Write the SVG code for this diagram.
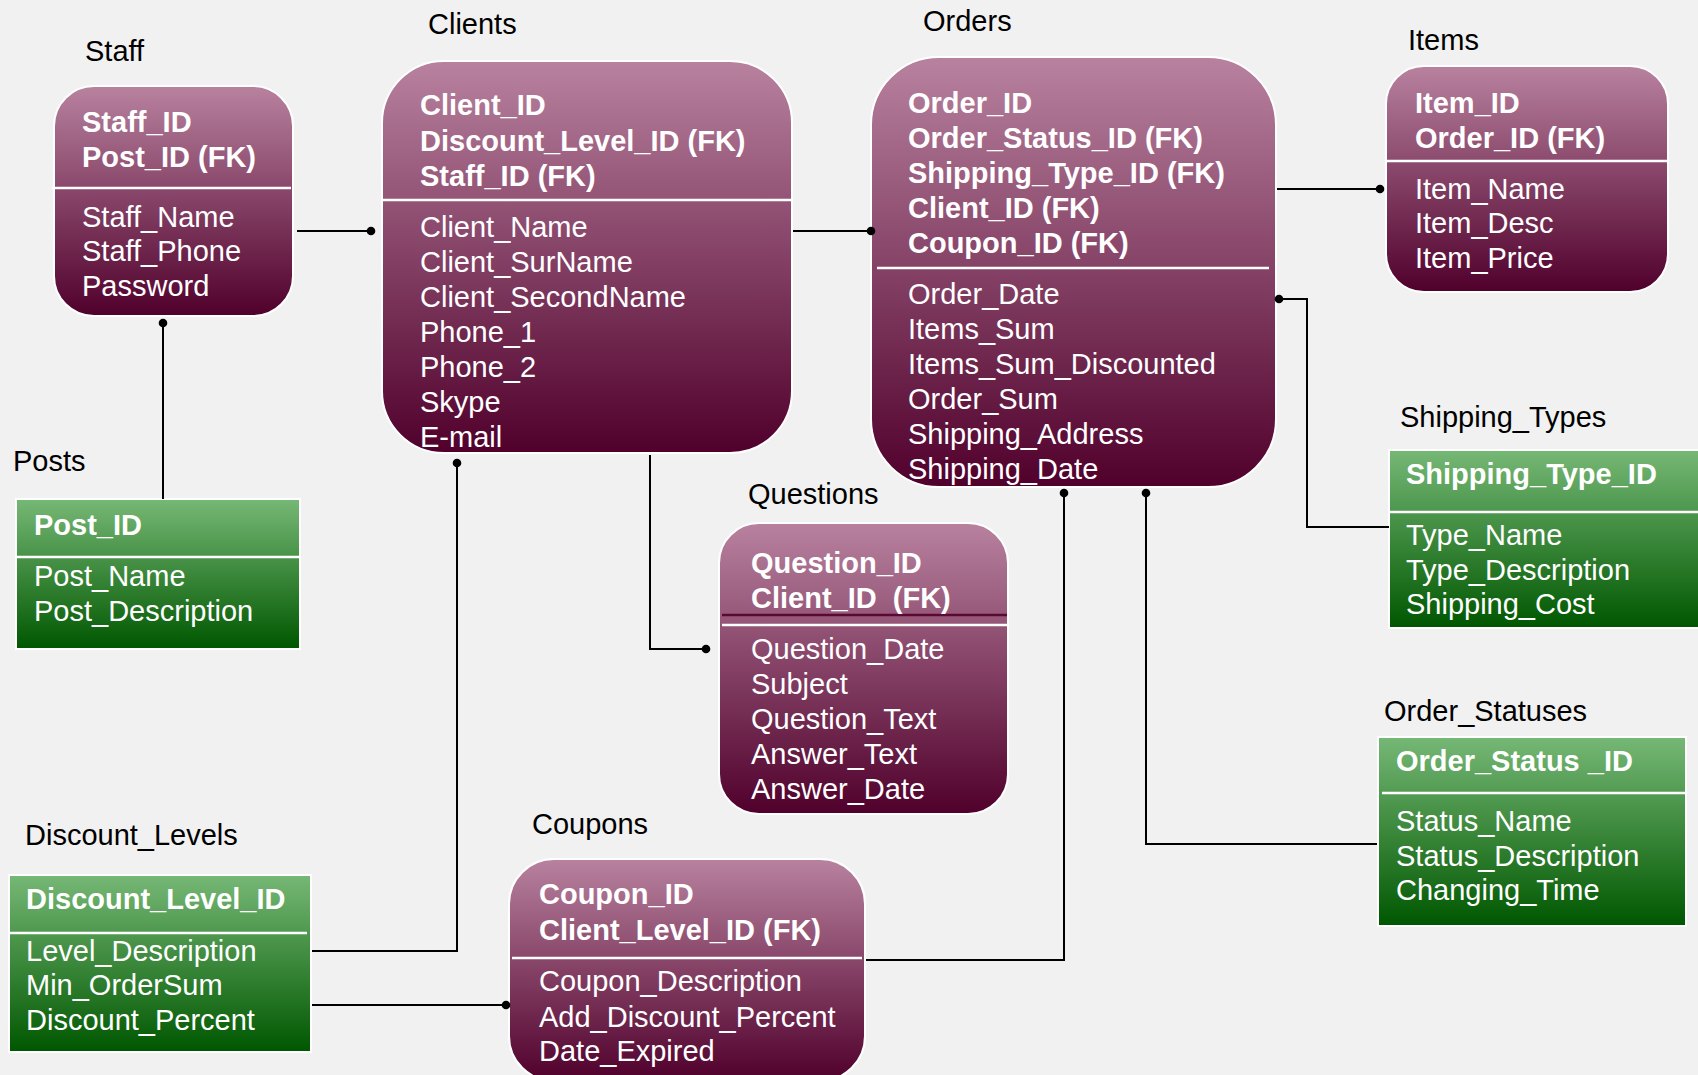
<svg xmlns="http://www.w3.org/2000/svg" width="1698" height="1075" viewBox="0 0 1698 1075">
<defs>
<linearGradient id="mauve" x1="0" y1="0" x2="0" y2="1">
<stop offset="0" stop-color="#b8829f"/>
<stop offset="1" stop-color="#50002b"/>
</linearGradient>
<linearGradient id="green" x1="0" y1="0" x2="0" y2="1">
<stop offset="0" stop-color="#76b876"/>
<stop offset="1" stop-color="#005700"/>
</linearGradient>
<style>
text{font-family:"Liberation Sans",Arial,sans-serif;font-size:29px}
.title{fill:#000}
.k{fill:#fff;font-weight:bold}
.f{fill:#fff}
.m{fill:url(#mauve);stroke:#fff;stroke-width:2}
.g{fill:url(#green);stroke:#fff;stroke-width:2}
.div{stroke:#fff;stroke-width:2.5}
.con{fill:none;stroke:#000;stroke-width:2}
.dot{fill:#000}
</style>
</defs>
<rect x="0" y="0" width="1698" height="1075" fill="#f1f1f1"/>

<g id="staff">
<text class="title" x="85" y="61">Staff</text>
<rect class="m" x="54" y="86" width="239" height="230" rx="40"/>
<line class="div" x1="52" y1="188" x2="291" y2="188"/>
<text class="k" x="82" y="132">Staff_ID</text>
<text class="k" x="82" y="167">Post_ID (FK)</text>
<text class="f" x="82" y="227">Staff_Name</text>
<text class="f" x="82" y="261">Staff_Phone</text>
<text class="f" x="82" y="296">Password</text>
</g>

<g id="clients">
<text class="title" x="428" y="34">Clients</text>
<rect class="m" x="382" y="61" width="410" height="392" rx="62"/>
<line class="div" x1="382" y1="200" x2="792" y2="200"/>
<text class="k" x="420" y="115">Client_ID</text>
<text class="k" x="420" y="151">Discount_Level_ID (FK)</text>
<text class="k" x="420" y="186">Staff_ID (FK)</text>
<text class="f" x="420" y="237">Client_Name</text>
<text class="f" x="420" y="272">Client_SurName</text>
<text class="f" x="420" y="307">Client_SecondName</text>
<text class="f" x="420" y="342">Phone_1</text>
<text class="f" x="420" y="377">Phone_2</text>
<text class="f" x="420" y="412">Skype</text>
<text class="f" x="420" y="447">E-mail</text>
</g>

<g id="orders">
<text class="title" x="923" y="31">Orders</text>
<rect class="m" x="871" y="57" width="405" height="430" rx="68"/>
<line class="div" x1="877" y1="268" x2="1269" y2="268"/>
<text class="k" x="908" y="113">Order_ID</text>
<text class="k" x="908" y="148">Order_Status_ID (FK)</text>
<text class="k" x="908" y="183">Shipping_Type_ID (FK)</text>
<text class="k" x="908" y="218">Client_ID (FK)</text>
<text class="k" x="908" y="253">Coupon_ID (FK)</text>
<text class="f" x="908" y="304">Order_Date</text>
<text class="f" x="908" y="339">Items_Sum</text>
<text class="f" x="908" y="374">Items_Sum_Discounted</text>
<text class="f" x="908" y="409">Order_Sum</text>
<text class="f" x="908" y="444">Shipping_Address</text>
<text class="f" x="908" y="479">Shipping_Date</text>
</g>

<g id="items">
<text class="title" x="1408" y="50">Items</text>
<rect class="m" x="1386" y="66" width="282" height="226" rx="38"/>
<line class="div" x1="1386" y1="161" x2="1668" y2="161"/>
<text class="k" x="1415" y="113">Item_ID</text>
<text class="k" x="1415" y="148">Order_ID (FK)</text>
<text class="f" x="1415" y="199">Item_Name</text>
<text class="f" x="1415" y="233">Item_Desc</text>
<text class="f" x="1415" y="268">Item_Price</text>
</g>

<g id="posts">
<text class="title" x="13" y="471">Posts</text>
<rect class="g" x="16" y="499" width="284" height="150"/>
<line class="div" x1="17" y1="557" x2="299" y2="557"/>
<text class="k" x="34" y="535">Post_ID</text>
<text class="f" x="34" y="586">Post_Name</text>
<text class="f" x="34" y="621">Post_Description</text>
</g>

<g id="questions">
<text class="title" x="748" y="504">Questions</text>
<rect class="m" x="719" y="523" width="289" height="291" rx="40"/>
<line x1="722" y1="615" x2="1007" y2="615" stroke="#5a0a30" stroke-width="2.5"/>
<line class="div" x1="722" y1="625" x2="1007" y2="625"/>
<text class="k" x="751" y="573">Question_ID</text>
<text class="k" x="751" y="608" style="white-space:pre">Client_ID  (FK)</text>
<text class="f" x="751" y="659">Question_Date</text>
<text class="f" x="751" y="694">Subject</text>
<text class="f" x="751" y="729">Question_Text</text>
<text class="f" x="751" y="764">Answer_Text</text>
<text class="f" x="751" y="799">Answer_Date</text>
</g>

<g id="discount_levels">
<text class="title" x="25" y="845">Discount_Levels</text>
<rect class="g" x="9" y="875" width="302" height="177"/>
<line class="div" x1="10" y1="933" x2="307" y2="933"/>
<text class="k" x="26" y="909">Discount_Level_ID</text>
<text class="f" x="26" y="961">Level_Description</text>
<text class="f" x="26" y="995">Min_OrderSum</text>
<text class="f" x="26" y="1030">Discount_Percent</text>
</g>

<g id="coupons">
<text class="title" x="532" y="834">Coupons</text>
<rect class="m" x="509" y="859" width="356" height="222" rx="45"/>
<line class="div" x1="512" y1="958" x2="862" y2="958"/>
<text class="k" x="539" y="904">Coupon_ID</text>
<text class="k" x="539" y="940">Client_Level_ID (FK)</text>
<text class="f" x="539" y="991">Coupon_Description</text>
<text class="f" x="539" y="1027">Add_Discount_Percent</text>
<text class="f" x="539" y="1061">Date_Expired</text>
</g>

<g id="shipping_types">
<text class="title" x="1400" y="427">Shipping_Types</text>
<rect class="g" x="1389" y="450" width="312" height="178"/>
<line class="div" x1="1390" y1="512" x2="1698" y2="512"/>
<text class="k" x="1406" y="484">Shipping_Type_ID</text>
<text class="f" x="1406" y="545">Type_Name</text>
<text class="f" x="1406" y="580">Type_Description</text>
<text class="f" x="1406" y="614">Shipping_Cost</text>
</g>

<g id="order_statuses">
<text class="title" x="1384" y="721">Order_Statuses</text>
<rect class="g" x="1378" y="737" width="308" height="189"/>
<line class="div" x1="1382" y1="793" x2="1686" y2="793"/>
<text class="k" x="1396" y="771">Order_Status _ID</text>
<text class="f" x="1396" y="831">Status_Name</text>
<text class="f" x="1396" y="866">Status_Description</text>
<text class="f" x="1396" y="900">Changing_Time</text>
</g>

<g id="connectors">
<path class="con" d="M297 231H371"/><circle class="dot" cx="371" cy="231" r="4.3"/>
<path class="con" d="M163 323V499"/><circle class="dot" cx="163" cy="323" r="4.3"/>
<path class="con" d="M793 231H871"/><circle class="dot" cx="871" cy="231" r="4.3"/>
<path class="con" d="M1277 189H1380"/><circle class="dot" cx="1380" cy="189" r="4.3"/>
<path class="con" d="M1279 299H1307V527H1389"/><circle class="dot" cx="1279" cy="299" r="4.3"/>
<path class="con" d="M457 463V951H312"/><circle class="dot" cx="457" cy="463" r="4.3"/>
<path class="con" d="M650 455V649H706"/><circle class="dot" cx="706" cy="649" r="4.3"/>
<path class="con" d="M312 1005H506"/><circle class="dot" cx="506" cy="1005" r="4.3"/>
<path class="con" d="M1064 493V960H866"/><circle class="dot" cx="1064" cy="493" r="4.3"/>
<path class="con" d="M1146 493V844H1377"/><circle class="dot" cx="1146" cy="493" r="4.3"/>
</g>
</svg>
